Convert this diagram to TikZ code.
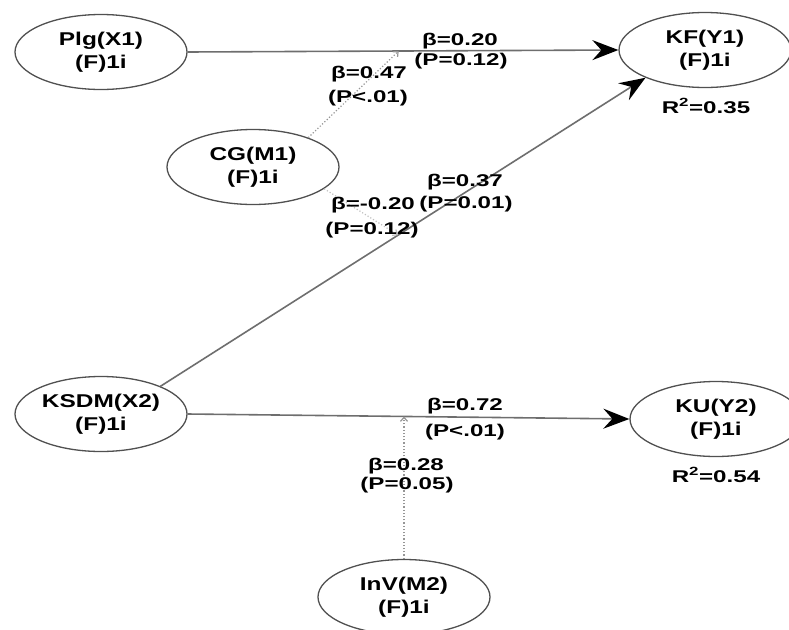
\documentclass[tikz,border=0pt]{standalone}
\usepackage{fontspec}
\usetikzlibrary{shapes.geometric,arrows.meta,calc}
\newfontfamily\lbl{Liberation Sans}[FakeStretch=1.42]
\newfontfamily\lblb{Liberation Sans}[FakeStretch=1.32]
\definecolor{edgegray}{RGB}{110,110,110}
\definecolor{ellgray}{RGB}{80,80,80}
\definecolor{dotgray}{RGB}{150,150,150}
\tikzset{
  latent/.style={ellipse, draw=ellgray, line width=1.3pt, minimum width=172pt, minimum height=75pt, inner sep=0pt, align=center, font=\lblb\bfseries\fontsize{18.5}{23}\selectfont},
  coef/.style={inner sep=0pt, font=\lbl\bfseries\fontsize{17}{20}\selectfont},
  strpath/.style={draw=edgegray, line width=1.6pt, -{Stealth[length=26pt,width=20pt,inset=9pt,color=black]}},
  modpath/.style={draw=dotgray, line width=1.2pt, dotted, -{Straight Barb[length=4pt,width=7pt]}}
}
\begin{document}
\begin{tikzpicture}[x=1pt,y=-1pt]
\useasboundingbox (0,0) rectangle (789,629);
% latent variables
\node[latent] (X1) at (101,52) {Plg(X1)\\(F)1i};
\node[latent] (Y1) at (705,50) {KF(Y1)\\(F)1i};
\node[latent] (M1) at (253,167) {CG(M1)\\(F)1i};
\node[latent] (X2) at (101,414) {KSDM(X2)\\(F)1i};
\node[latent] (Y2) at (716,419) {KU(Y2)\\(F)1i};
\node[latent] (M2) at (404,597) {InV(M2)\\(F)1i};
% structural paths
\draw[strpath] (X1.east) -- (Y1.west);
\draw[strpath] (X2.25) -- (Y1.205);
\draw[strpath] (X2.east) -- (Y2.west);
% moderation points
\coordinate (m1) at ($(X1.east)!0.49!(Y1.west)$);
\coordinate (m2) at ($(X2.25)!0.49!(Y1.205)$);
\coordinate (m3) at ($(X2.east)!0.49!(Y2.west)$);
\draw[modpath] (M1.28) -- (m1);
\draw[modpath, draw=dotgray!60] (M1.-17) -- (m2);
\draw[modpath] (M2.north) -- (M2.north |- m3);
% coefficients
\node[coef] (b1) at (460,41) {β=0.20};
\node[coef] (p1) at (461,61) {(P=0.12)};
\node[coef] (b2) at (369,74) {β=0.47};
\node[coef] (p2) at (368,98) {(P<.01)};
\node[coef] (b3) at (465,182) {β=0.37};
\node[coef] (p3) at (466,204) {(P=0.01)};
\node[coef] (b4) at (373,205) {β=-0.20};
\node[coef] (p4) at (372,230) {(P=0.12)};
\node[coef] (b5) at (465,406) {β=0.72};
\node[coef] (p5) at (465,432) {(P<.01)};
\node[coef] (b6) at (406,466) {β=0.28};
\node[coef] (p6) at (407,485) {(P=0.05)};
\node[coef] (r1) at (706,106) {R\textsuperscript{2}=0.35};
\node[coef] (r2) at (716,475) {R\textsuperscript{2}=0.54};
\end{tikzpicture}
\end{document}
